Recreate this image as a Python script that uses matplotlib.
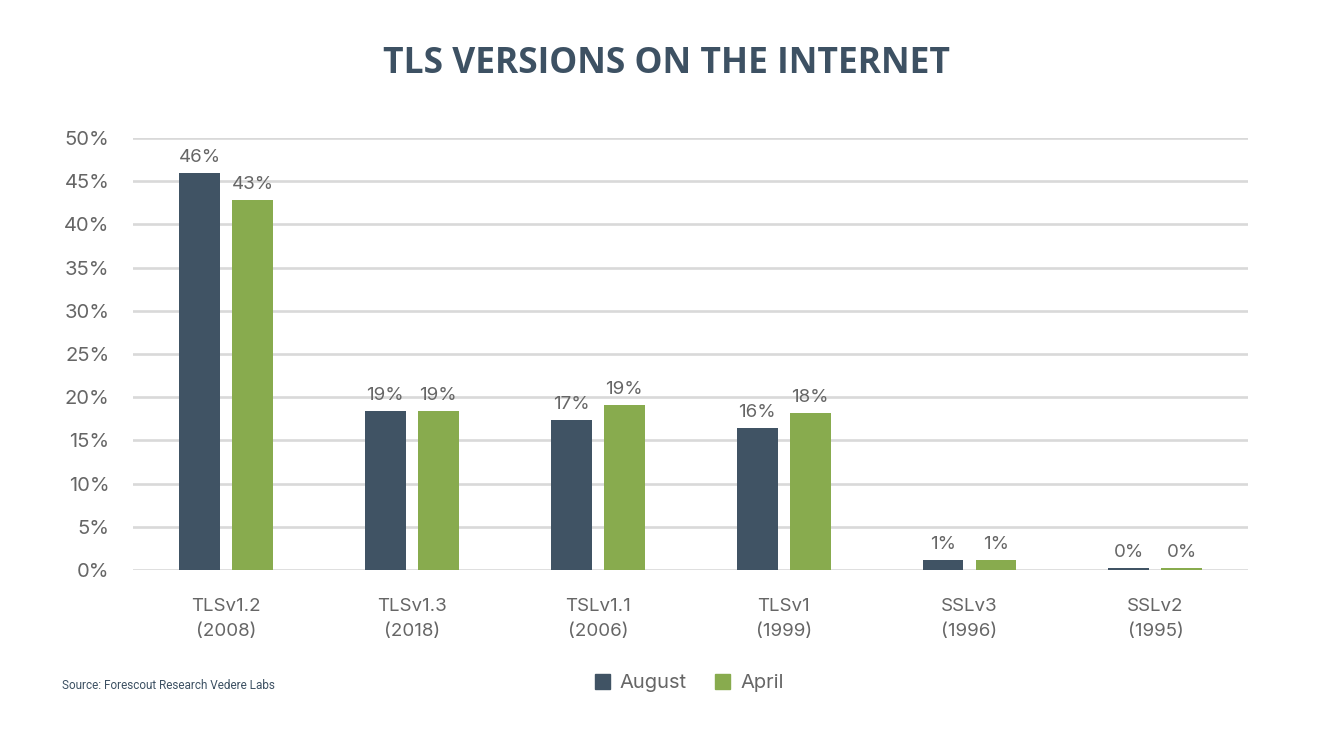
import numpy as np
import matplotlib
matplotlib.use("Agg")
from matplotlib import pyplot as plt
from matplotlib.patches import Patch

# data
categories = ["TLSv1.2\n(2008)", "TLSv1.3\n(2018)", "TSLv1.1\n(2006)",
              "TLSv1\n(1999)", "SSLv3\n(1996)", "SSLv2\n(1995)"]
august = [46.0, 18.4, 17.4, 16.4, 1.2, 0.2]
april = [42.8, 18.4, 19.1, 18.2, 1.2, 0.2]
august_labels = ["46%", "19%", "17%", "16%", "1%", "0%"]
april_labels = ["43%", "19%", "19%", "18%", "1%", "0%"]
yticks = [0, 5, 10, 15, 20, 25, 30, 35, 40, 45, 50]

dark = "#405364"
green = "#88ab4e"
gray = "#666666"
title_col = "#3d5163"

plt.rcParams['font.family'] = ['Inter', 'DejaVu Sans']

fig = plt.figure(figsize=(13.33, 7.29), dpi=100)
ax = fig.add_axes([0.0998, 0.218, 0.8367, 0.5927])

x = np.arange(len(categories))
w = 0.22
off = 0.1425
b1 = ax.bar(x - off, august, w, color=dark, zorder=3)
b2 = ax.bar(x + off, april, w, color=green, zorder=3)

for bars, labs in ((b1, august_labels), (b2, april_labels)):
    for b, lab in zip(bars, labs):
        ax.annotate(lab, (b.get_x() + b.get_width() / 2, b.get_height()),
                    xytext=(0, 5), textcoords="offset points",
                    ha="center", va="bottom", fontsize=13.5, color=gray)

ax.set_xlim(-0.5, len(categories) - 0.5)
ax.set_ylim(0, 50)
ax.set_yticks(yticks)
ax.set_yticklabels([f"{t}%" for t in yticks], fontsize=14.5, color=gray)
ax.set_xticks(x)
ax.set_xticklabels(categories, fontsize=13.5, color=gray, linespacing=1.6)
ax.tick_params(axis="both", length=0)
ax.tick_params(axis="y", pad=17)
ax.tick_params(axis="x", pad=20)
ax.grid(axis="y", color="#d9d9d9", linewidth=1.9, zorder=0)
for s in ax.spines.values():
    s.set_visible(False)

fig.text(0.5, 0.912, "TLS VERSIONS ON THE INTERNET", ha="center", va="center",
         fontsize=25.5, fontweight="bold", color=title_col, family="Open Sans")

fig.text(0.0465, 0.06, "Source: Forescout Research Vedere Labs", ha="left",
         va="center", fontsize=8.5, color=title_col, family="Roboto")

handles = [Patch(color=dark, label="August"), Patch(color=green, label="April")]
fig.legend(handles=handles, loc="center", bbox_to_anchor=(0.517, 0.063), ncol=2,
           frameon=False, fontsize=14.5, labelcolor=gray, handlelength=0.75,
           handleheight=0.75, handletextpad=0.5, columnspacing=1.4)

fig.savefig("out.png", dpi=100)
